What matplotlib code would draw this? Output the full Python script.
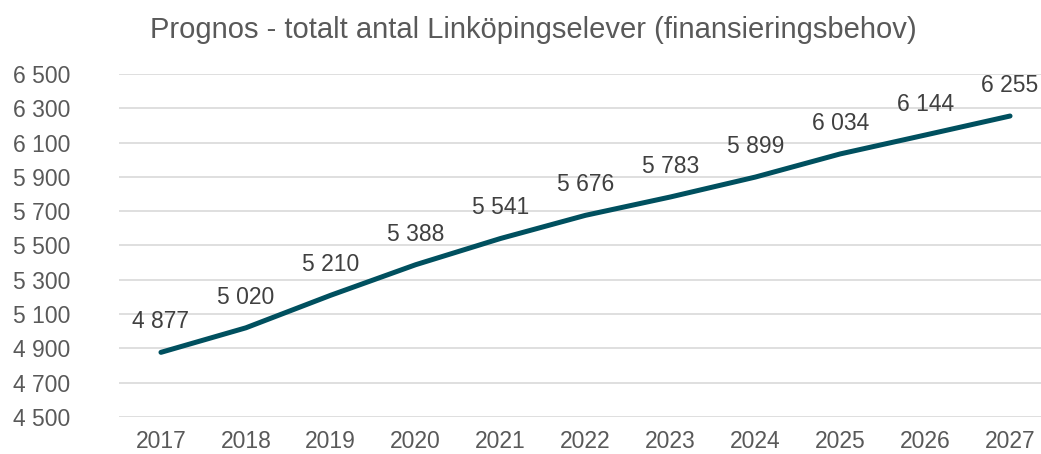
import matplotlib
matplotlib.use("Agg")
import matplotlib.pyplot as plt
from matplotlib.ticker import FuncFormatter

# data
years = ["2017", "2018", "2019", "2020", "2021", "2022", "2023", "2024", "2025", "2026", "2027"]
pupils = [4877, 5020, 5210, 5388, 5541, 5676, 5783, 5899, 6034, 6144, 6255]
y_ticks = [4500, 4700, 4900, 5100, 5300, 5500, 5700, 5900, 6100, 6300, 6500]
title = "Prognos - totalt antal Linköpingselever (finansieringsbehov)"

plt.rcParams["font.family"] = ["Liberation Sans", "DejaVu Sans"]
txt_color = "#595959"
line_color = "#00505F"


def sv(v, pos=None):
    # swedish style thousands separator
    return f"{int(v):,}".replace(",", " ")


fig = plt.figure(figsize=(10.41, 4.54), dpi=100)
ax = fig.add_axes([118.5 / 1041, 1 - 417 / 454, 934 / 1041, 343 / 454])

x = list(range(len(years)))
ax.plot(x, pupils, color=line_color, lw=3.6, solid_capstyle="round", zorder=3)

for xi, v in zip(x, pupils):
    ax.annotate(sv(v), (xi, v), xytext=(0, 22), textcoords="offset points",
                ha="center", va="center", fontsize=16.5, color="#404040")

ax.set_xlim(-0.5, len(years) - 0.5)
ax.set_ylim(4500, 6500)
ax.set_yticks(y_ticks)
ax.yaxis.set_major_formatter(FuncFormatter(sv))
ax.set_xticks(x)
ax.set_xticklabels(years)
ax.grid(axis="y", color="#D9D9D9", lw=1.2)
ax.set_axisbelow(True)
for s in ax.spines.values():
    s.set_visible(False)
ax.tick_params(length=0, labelsize=16.5, colors=txt_color)
ax.tick_params(axis="y", pad=76)
for lab in ax.get_yticklabels():
    lab.set_horizontalalignment("left")
ax.tick_params(axis="x", pad=9)

fig.text(533 / 1041, 1 - 30 / 454, title, ha="center", va="center",
         fontsize=21, color=txt_color)

fig.savefig("out.png", dpi=100)
